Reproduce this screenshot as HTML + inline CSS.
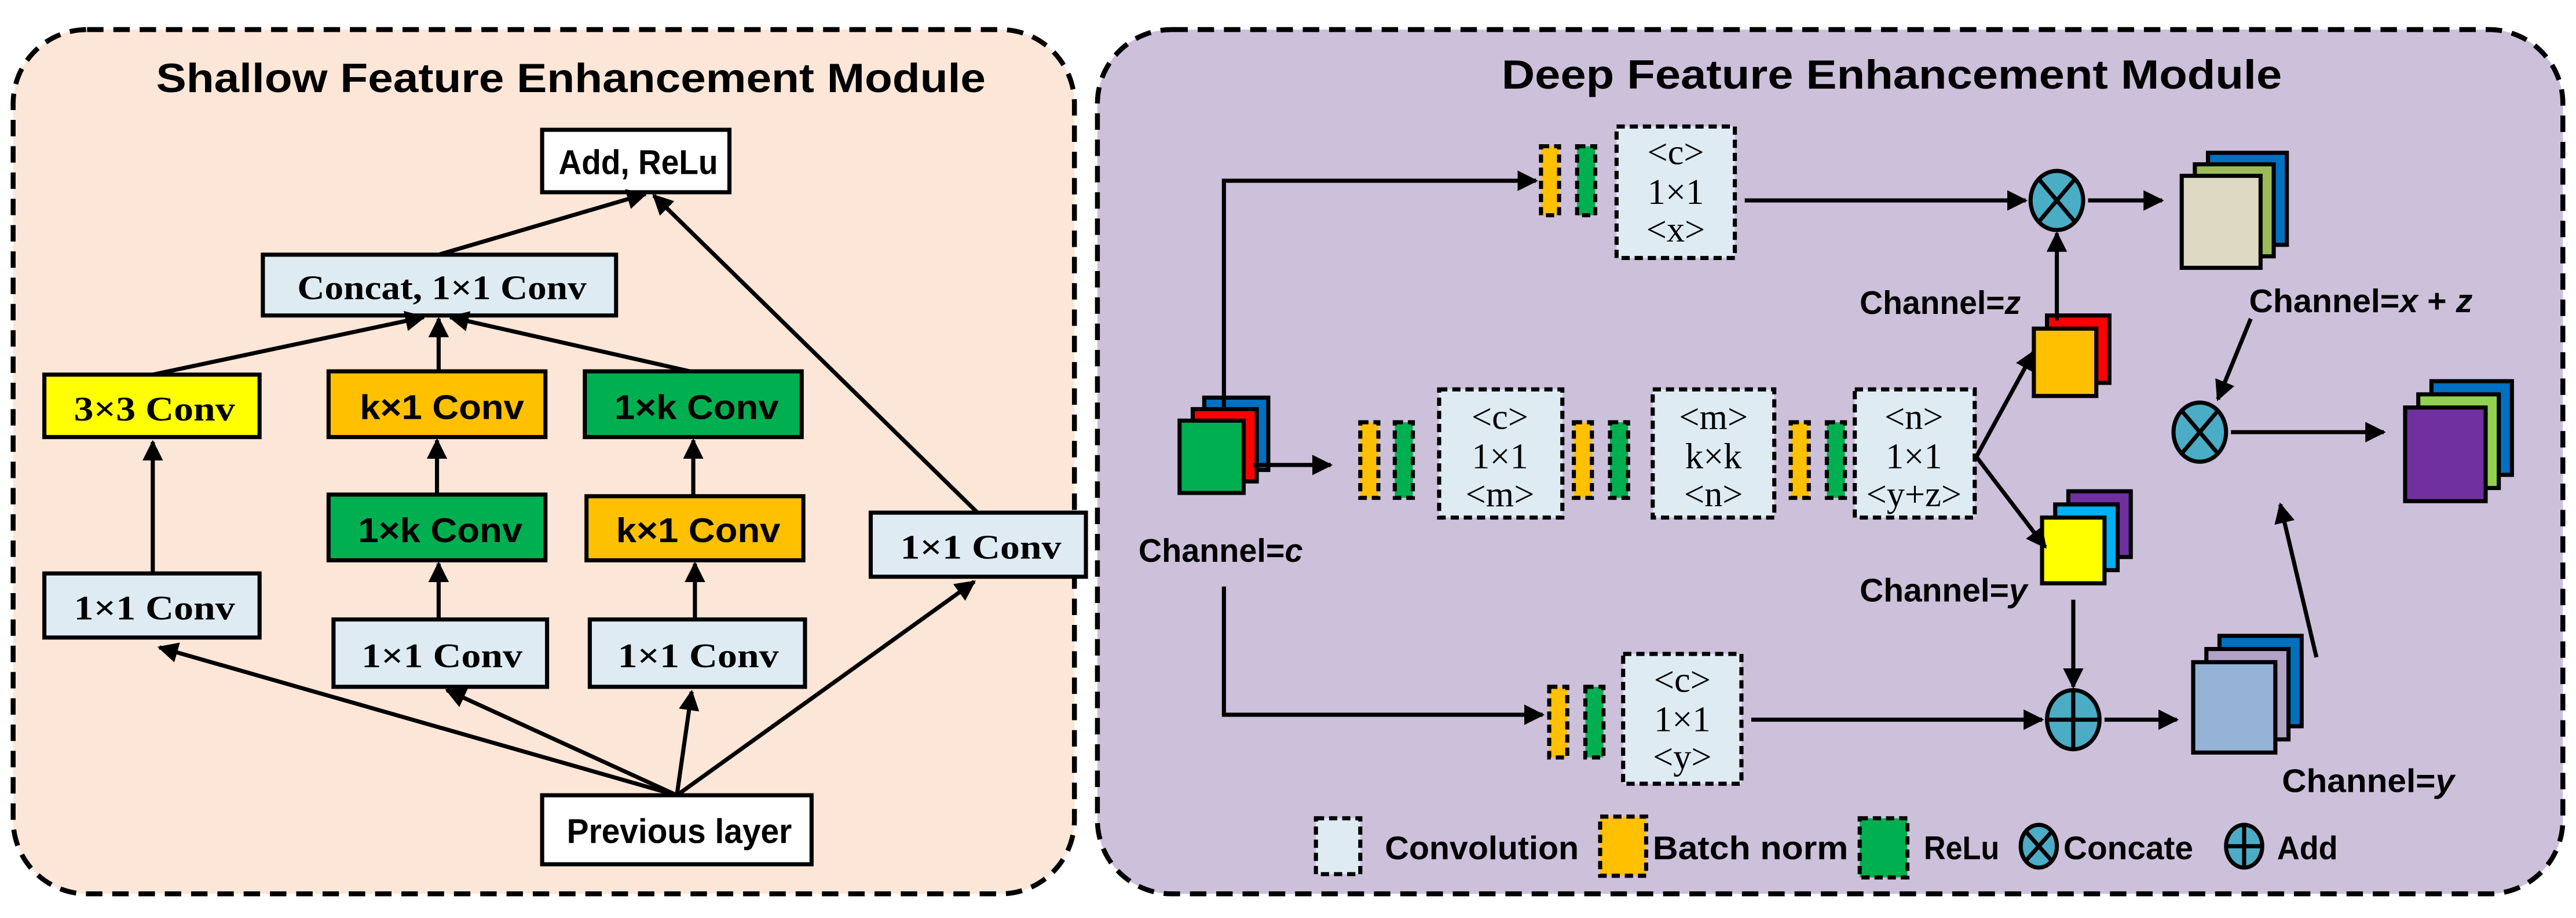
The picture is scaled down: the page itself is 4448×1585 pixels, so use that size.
<!DOCTYPE html>
<html><head><meta charset="utf-8"><style>
html,body{margin:0;padding:0;background:#fff;}
svg{display:block;}
.s{font-family:"Liberation Sans",sans-serif;font-weight:bold;}
.r{font-family:"Liberation Serif",serif;font-weight:bold;}
.n{font-family:"Liberation Serif",serif;}
</style></head><body>
<svg width="4448" height="1585" viewBox="0 0 1568 558.7" preserveAspectRatio="none" xmlns="http://www.w3.org/2000/svg">
<defs>
<marker id="a" viewBox="0 0 10 10" refX="9" refY="5" markerWidth="5" markerHeight="5" orient="auto"><path d="M0,0 L10,5 L0,10 z" fill="#000"/></marker>
</defs>
<rect x="8" y="18" width="646" height="526" rx="45" fill="#fce6d7" stroke="#000" stroke-width="3" stroke-dasharray="10,6"/>
<text x="95" y="56" class="s" font-size="25" textLength="505" lengthAdjust="spacingAndGlyphs">Shallow Feature Enhancement Module</text>
<g stroke="#000" stroke-width="2.5">
<rect x="330" y="79" width="114" height="38" fill="#fff"/>
<rect x="160" y="155" width="215" height="37" fill="#deebf3"/>
<rect x="27" y="228" width="131" height="38" fill="#ffff00"/>
<rect x="200" y="226" width="132" height="40" fill="#ffc000"/>
<rect x="356" y="226" width="132" height="40" fill="#00b050"/>
<rect x="200" y="301" width="132" height="40" fill="#00b050"/>
<rect x="357" y="302" width="132" height="39" fill="#ffc000"/>
<rect x="530" y="312" width="131" height="39" fill="#deebf3"/>
<rect x="27" y="349" width="131" height="39" fill="#deebf3"/>
<rect x="203" y="377" width="130" height="41" fill="#deebf3"/>
<rect x="359" y="377" width="131" height="41" fill="#deebf3"/>
<rect x="330" y="484" width="164" height="42" fill="#fff"/>
</g>
<g font-size="21">
<text x="340" y="106" class="s" textLength="97" lengthAdjust="spacingAndGlyphs">Add, ReLu</text>
<text x="181" y="182" class="r" textLength="176" lengthAdjust="spacingAndGlyphs">Concat, 1×1 Conv</text>
<text x="45" y="256" class="r" textLength="98" lengthAdjust="spacingAndGlyphs">3×3 Conv</text>
<text x="219" y="255" class="s" textLength="100" lengthAdjust="spacingAndGlyphs">k×1 Conv</text>
<text x="374" y="255" class="s" textLength="100" lengthAdjust="spacingAndGlyphs">1×k Conv</text>
<text x="218" y="330" class="s" textLength="100" lengthAdjust="spacingAndGlyphs">1×k Conv</text>
<text x="375" y="330" class="s" textLength="100" lengthAdjust="spacingAndGlyphs">k×1 Conv</text>
<text x="548" y="340" class="r" textLength="98" lengthAdjust="spacingAndGlyphs">1×1 Conv</text>
<text x="45" y="377" class="r" textLength="98" lengthAdjust="spacingAndGlyphs">1×1 Conv</text>
<text x="220" y="406" class="r" textLength="98" lengthAdjust="spacingAndGlyphs">1×1 Conv</text>
<text x="376" y="406" class="r" textLength="98" lengthAdjust="spacingAndGlyphs">1×1 Conv</text>
<text x="345" y="513" class="s" textLength="137" lengthAdjust="spacingAndGlyphs">Previous layer</text>
</g>
<g stroke="#000" stroke-width="2.5" fill="none" marker-end="url(#a)">
<line x1="412" y1="484" x2="97" y2="394"/>
<line x1="412" y1="484" x2="272" y2="420"/>
<line x1="412" y1="484" x2="421" y2="421"/>
<line x1="412" y1="484" x2="593" y2="354"/>
<line x1="595" y1="312" x2="398" y2="119"/>
<line x1="267" y1="155" x2="393" y2="118"/>
<line x1="93" y1="349" x2="93" y2="269"/>
<line x1="267" y1="377" x2="267" y2="343"/>
<line x1="423" y1="377" x2="423" y2="343"/>
<line x1="266" y1="301" x2="266" y2="268"/>
<line x1="422" y1="302" x2="422" y2="268"/>
<line x1="93" y1="228" x2="258" y2="193"/>
<line x1="267" y1="226" x2="267" y2="194"/>
<line x1="420" y1="226" x2="274" y2="193"/>
</g>
<rect x="668" y="18" width="892" height="526" rx="45" fill="#ccc0da" stroke="#000" stroke-width="3" stroke-dasharray="10,6"/>
<text x="914" y="54" class="s" font-size="25" textLength="475" lengthAdjust="spacingAndGlyphs">Deep Feature Enhancement Module</text>
<g stroke="#000" stroke-width="2.5" stroke-dasharray="5,3">
<rect x="938" y="89" width="11" height="42" fill="#ffc000"/><rect x="960" y="89" width="11" height="42" fill="#00b050"/>
<rect x="984" y="77" width="72" height="80" fill="#deebf3"/>
<rect x="828" y="257" width="11" height="46" fill="#ffc000"/><rect x="849" y="257" width="11" height="46" fill="#00b050"/>
<rect x="876" y="237" width="75" height="78" fill="#deebf3"/>
<rect x="958" y="257" width="11" height="46" fill="#ffc000"/><rect x="980" y="257" width="11" height="46" fill="#00b050"/>
<rect x="1006" y="237" width="74" height="78" fill="#deebf3"/>
<rect x="1090" y="257" width="11" height="46" fill="#ffc000"/><rect x="1112" y="257" width="11" height="46" fill="#00b050"/>
<rect x="1129" y="237" width="73" height="78" fill="#deebf3"/>
<rect x="943" y="418" width="11" height="43" fill="#ffc000"/><rect x="965" y="418" width="11" height="43" fill="#00b050"/>
<rect x="988" y="398" width="72" height="79" fill="#deebf3"/>
<rect x="801" y="498" width="27" height="34" fill="#deebf3"/>
<rect x="974" y="497" width="28" height="36" fill="#ffc000"/>
<rect x="1132" y="498" width="29" height="36" fill="#00b050"/>
</g>
<g class="n" font-size="22" text-anchor="middle">
<text x="1020" y="100">&lt;c&gt;</text><text x="1020" y="124">1×1</text><text x="1020" y="147">&lt;x&gt;</text>
<text x="913" y="261">&lt;c&gt;</text><text x="913" y="285">1×1</text><text x="913" y="308">&lt;m&gt;</text>
<text x="1043" y="261">&lt;m&gt;</text><text x="1043" y="285">k×k</text><text x="1043" y="308">&lt;n&gt;</text>
<text x="1165" y="261">&lt;n&gt;</text><text x="1165" y="285">1×1</text><text x="1165" y="308">&lt;y+z&gt;</text>
<text x="1024" y="421">&lt;c&gt;</text><text x="1024" y="445">1×1</text><text x="1024" y="468">&lt;y&gt;</text>
</g>
<g stroke="#000" stroke-width="2.5">
<rect x="733" y="242" width="39" height="44" fill="#0070c0"/><rect x="726" y="249" width="39" height="44" fill="#ff0000"/><rect x="718" y="256" width="39" height="44" fill="#00b050"/>
<rect x="1344" y="93" width="48" height="56" fill="#0070c0"/><rect x="1336" y="100" width="48" height="56" fill="#9bbb59"/><rect x="1328" y="107" width="48" height="56" fill="#ddd9c3"/>
<rect x="1246" y="192" width="38" height="41" fill="#ff0000"/><rect x="1238" y="200" width="38" height="41" fill="#ffc000"/>
<rect x="1259" y="299" width="38" height="40" fill="#7030a0"/><rect x="1251" y="307" width="38" height="40" fill="#00b0f0"/><rect x="1243" y="315" width="38" height="40" fill="#ffff00"/>
<rect x="1480" y="232" width="49" height="57" fill="#0070c0"/><rect x="1472" y="240" width="49" height="57" fill="#92d050"/><rect x="1464" y="248" width="49" height="57" fill="#7030a0"/>
<rect x="1351" y="387" width="50" height="55" fill="#0070c0"/><rect x="1343" y="395" width="50" height="55" fill="#b3a2c7"/><rect x="1335" y="403" width="50" height="55" fill="#95b3d7"/>
</g>
<g stroke="#000" stroke-width="2.5" fill="#4bacc6">
<ellipse cx="1252" cy="122" rx="16" ry="18"/>
<ellipse cx="1339" cy="263" rx="16" ry="18"/>
<ellipse cx="1262" cy="438" rx="16" ry="18"/>
<ellipse cx="1241" cy="515" rx="11" ry="13"/>
<ellipse cx="1366" cy="515" rx="11" ry="13"/>
<path d="M1241,109 L1263,135 M1263,109 L1241,135 M1328,250 L1350,276 M1350,250 L1328,276 M1262,420 L1262,456 M1246,438 L1278,438 M1233,506 L1249,524 M1249,506 L1233,524 M1366,502 L1366,528 M1355,515 L1377,515" fill="none"/>
</g>
<g stroke="#000" stroke-width="2.5" fill="none" marker-end="url(#a)">
<polyline points="745,250 745,110 935,110"/>
<polyline points="745,357 745,435 939,435"/>
<line x1="763" y1="283" x2="810" y2="283"/>
<line x1="1062" y1="122" x2="1233" y2="122"/>
<line x1="1271" y1="122" x2="1316" y2="122"/>
<line x1="1252" y1="195" x2="1252" y2="142"/>
<line x1="1203" y1="278" x2="1238" y2="214"/>
<line x1="1203" y1="278" x2="1245" y2="333"/>
<line x1="1262" y1="365" x2="1262" y2="418"/>
<line x1="1066" y1="438" x2="1243" y2="438"/>
<line x1="1281" y1="438" x2="1325" y2="438"/>
<line x1="1370" y1="194" x2="1350" y2="243"/>
<line x1="1358" y1="263" x2="1451" y2="263"/>
<line x1="1410" y1="400" x2="1388" y2="307"/>
</g>
<g class="s" font-size="20" font-weight="normal">
<text x="693" y="342" textLength="100" lengthAdjust="spacingAndGlyphs">Channel=<tspan font-style="italic">c</tspan></text>
<text x="1132" y="191" textLength="98" lengthAdjust="spacingAndGlyphs">Channel=<tspan font-style="italic">z</tspan></text>
<text x="1132" y="366" textLength="102" lengthAdjust="spacingAndGlyphs">Channel=<tspan font-style="italic">y</tspan></text>
<text x="1369" y="190" textLength="136" lengthAdjust="spacingAndGlyphs">Channel=<tspan font-style="italic">x</tspan> + <tspan font-style="italic">z</tspan></text>
<text x="1389" y="482" textLength="105" lengthAdjust="spacingAndGlyphs">Channel=<tspan font-style="italic">y</tspan></text>
<text x="843" y="523" textLength="118" lengthAdjust="spacingAndGlyphs">Convolution</text>
<text x="1006" y="523" textLength="119" lengthAdjust="spacingAndGlyphs">Batch norm</text>
<text x="1171" y="523" textLength="46" lengthAdjust="spacingAndGlyphs">ReLu</text>
<text x="1256" y="523" textLength="79" lengthAdjust="spacingAndGlyphs">Concate</text>
<text x="1386" y="523" textLength="37" lengthAdjust="spacingAndGlyphs">Add</text>
</g>
</svg>
</body></html>
